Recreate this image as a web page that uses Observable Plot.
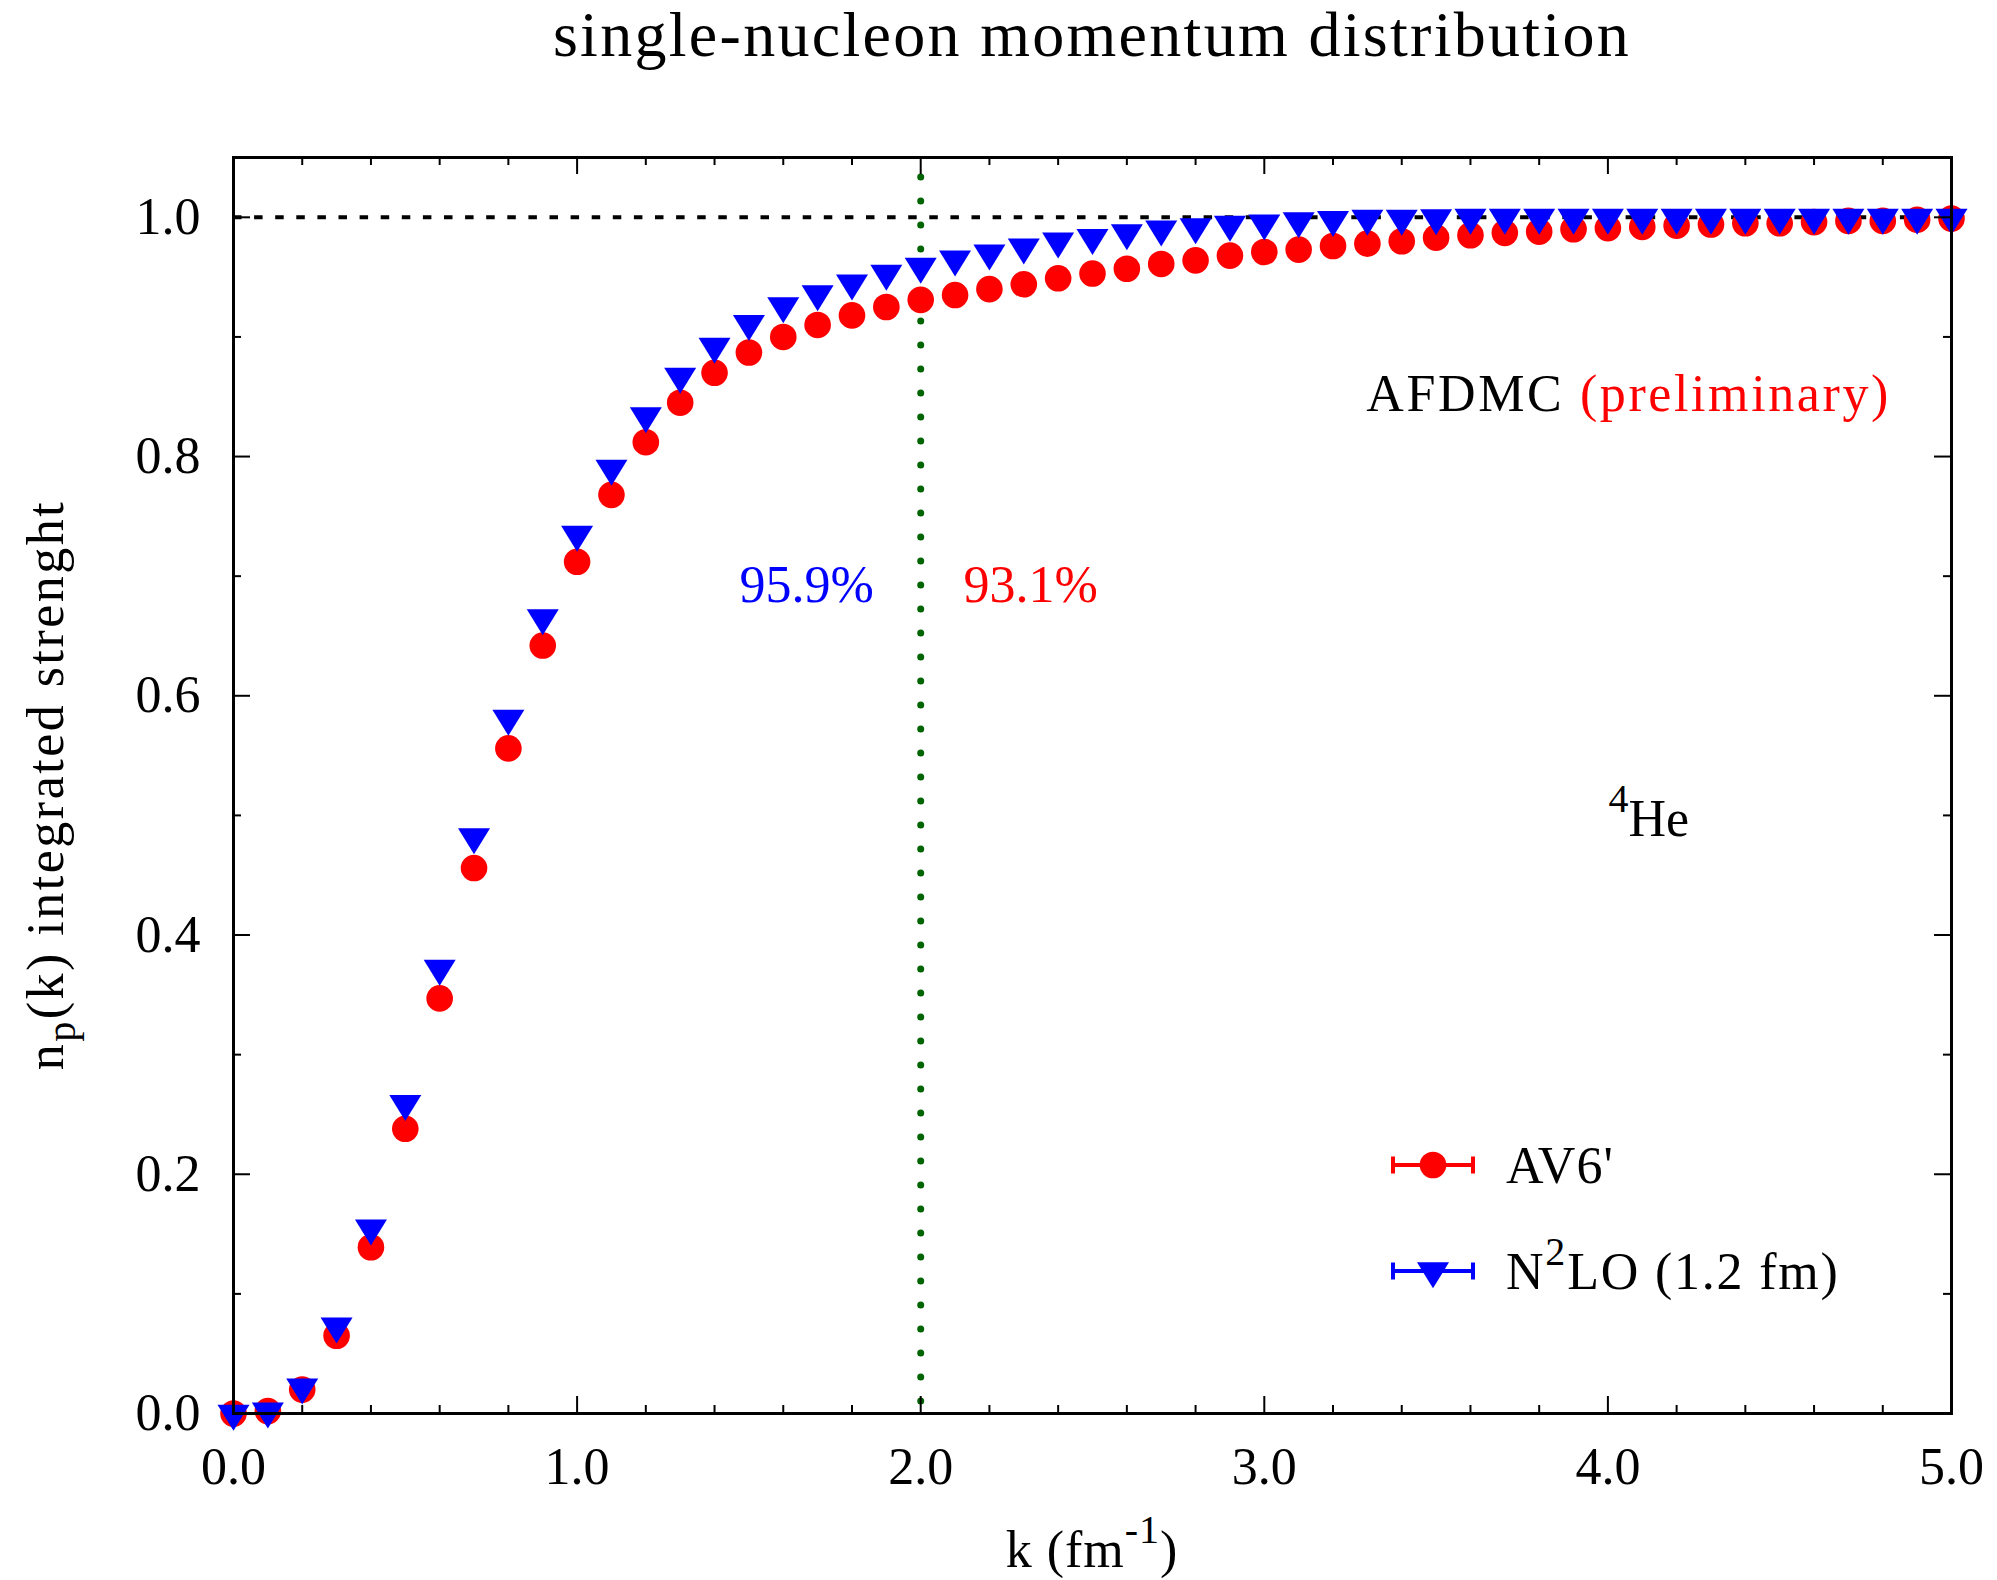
<!DOCTYPE html>
<html><head><meta charset="utf-8">
<script src="https://cdn.jsdelivr.net/npm/d3@7"></script>
<script src="https://cdn.jsdelivr.net/npm/@observablehq/plot@0.6"></script>
<style>
html,body{margin:0;padding:0;background:#fff;}
#wrap{position:relative;width:1997px;height:1580px;overflow:hidden;background:#fff;}
#title{box-sizing:border-box;height:90px;line-height:66px;padding-top:2px;padding-left:233px;padding-right:46px;font-family:"Liberation Serif",serif;font-size:64px;text-align:center;letter-spacing:2.3px;color:#000;white-space:nowrap;}
</style></head>
<body><div id="wrap"><div id="title">single-nucleon momentum distribution</div><div id="chart"></div></div>
<script>
// ---- data ----
const k = [0.0,0.1,0.2,0.3,0.4,0.5,0.6,0.7,0.8,0.9,1.0,1.1,1.2,1.3,1.4,1.5,1.6,1.7,1.8,1.9,2.0,2.1,2.2,2.3,2.4,2.5,2.6,2.7,2.8,2.9,3.0,3.1,3.2,3.3,3.4,3.5,3.6,3.7,3.8,3.9,4.0,4.1,4.2,4.3,4.4,4.5,4.6,4.7,4.8,4.9,5.0];
const av6 = [0.000,0.002,0.020,0.065,0.139,0.238,0.347,0.456,0.556,0.642,0.712,0.768,0.812,0.845,0.870,0.887,0.900,0.910,0.918,0.925,0.931,0.935,0.940,0.944,0.949,0.953,0.957,0.961,0.964,0.968,0.971,0.973,0.976,0.978,0.980,0.983,0.985,0.987,0.988,0.990,0.991,0.992,0.993,0.994,0.995,0.995,0.996,0.997,0.997,0.998,0.999];
const n2lo = [0.000,0.002,0.022,0.073,0.155,0.259,0.372,0.482,0.581,0.665,0.735,0.790,0.834,0.867,0.892,0.911,0.926,0.936,0.945,0.953,0.959,0.965,0.970,0.975,0.980,0.983,0.987,0.990,0.992,0.994,0.995,0.997,0.998,0.999,0.999,0.9995,1.000,1.000,1.000,1.000,1.000,1.000,1.000,1.000,1.000,1.000,1.000,1.000,1.000,1.000,1.000];
const seriesNames = ["AV6'", "N²LO (1.2 fm)"];
const seriesColors = ["#ff0000", "#0000ff"];
const xMajor = [0,1,2,3,4,5];
const xMinor = [0.2,0.4,0.6,0.8,1.2,1.4,1.6,1.8,2.2,2.4,2.6,2.8,3.2,3.4,3.6,3.8,4.2,4.4,4.6,4.8];
const yMajor = [0,0.2,0.4,0.6,0.8,1.0];
const yMinor = [0.1,0.3,0.5,0.7,0.9];
const cutK = [2.0];
const unitLevel = [1.0];
const pctLabels = [{x:1.4726, y:0.6921, text:"95.9%", fill:"#0000ff"},{x:2.1246, y:0.6921, text:"93.1%", fill:"#ff0000"}];
const afdmcLabel = [{x:3.297, y:0.8524, text:"AFDMC (preliminary)"}];
const heLabel = [{x:4.0017, y:0.4963, text:"4He"}];

// ---- layout ----
const W = 1997, H = 1490, mT = 67, mB = 167, mL = 233, mR = 46;
const FH = H - mT - mB, FW = W - mL - mR;
const MAJ = 17, MIN = 8;
const SUP = 40;
const FONT = '"Liberation Serif", serif';

const red = k.map((x,i)=>({k:x, v:av6[i]}));
const blue = k.map((x,i)=>({k:x, v:n2lo[i]}));

const downTriangle = {
  draw(context, size) {
    const r = Math.sqrt(size / Math.PI);
    const h = r * 1.625;
    context.moveTo(-r, -h/3);
    context.lineTo(r, -h/3);
    context.lineTo(0, 2*h/3);
    context.closePath();
  }
};

const tickStyle = {stroke:"black", strokeWidth:2};
const plot = Plot.plot({
  width: W, height: H, marginTop: mT, marginBottom: mB, marginLeft: mL, marginRight: mR,
  style: {fontFamily: FONT, fontSize: "52px", background: "white", overflow: "visible", color: "black"},
  x: {domain: [0,5], label: null},
  y: {domain: [0,1.05], label: null},
  marks: [
    Plot.ruleY(unitLevel, {y: d=>d, stroke:"black", strokeWidth:4, strokeDasharray:"8.5,12.6"}),
    Plot.ruleX(cutK, {x: d=>d, stroke:"#006400", strokeWidth:7, strokeDasharray:"0,24", strokeDashoffset:4, strokeLinecap:"round"}),
    Plot.dot(red, {x:"k", y:"v", r:13.3, fill:seriesColors[0]}),
    Plot.dot(blue, {x:"k", y:"v", r:16, symbol: downTriangle, fill:seriesColors[1]}),
    Plot.tickX(xMajor, {x:d=>d, insetTop: FH-MAJ, ...tickStyle}),
    Plot.tickX(xMajor, {x:d=>d, insetBottom: FH-MAJ, ...tickStyle}),
    Plot.tickX(xMinor, {x:d=>d, insetTop: FH-MIN, ...tickStyle}),
    Plot.tickX(xMinor, {x:d=>d, insetBottom: FH-MIN, ...tickStyle}),
    Plot.tickY(yMajor, {y:d=>d, insetRight: FW-MAJ, ...tickStyle}),
    Plot.tickY(yMajor, {y:d=>d, insetLeft: FW-MAJ, ...tickStyle}),
    Plot.tickY(yMinor, {y:d=>d, insetRight: FW-MIN, ...tickStyle}),
    Plot.tickY(yMinor, {y:d=>d, insetLeft: FW-MIN, ...tickStyle}),
    Plot.frame({stroke:"black", strokeWidth:3}),
    Plot.axisX({ticks: xMajor, tickSize:0, tickPadding:34, tickFormat: d3.format(".1f"), label:null, fontSize:52}),
    Plot.axisY({ticks: yMajor, tickSize:0, tickPadding:33, tickFormat: d3.format(".1f"), label:null, fontSize:52}),
    Plot.text(pctLabels.slice(0,1), {x:"x", y:"y", text:"text", fill:pctLabels[0].fill, textAnchor:"start", lineAnchor:"middle", fontSize:52}),
    Plot.text(pctLabels.slice(1), {x:"x", y:"y", text:"text", fill:pctLabels[1].fill, textAnchor:"start", lineAnchor:"middle", fontSize:52}),
    Plot.text(afdmcLabel, {x:"x", y:"y", text:"text", fill:"black", textAnchor:"start", lineAnchor:"middle", fontSize:52}),
    Plot.text(heLabel, {x:"x", y:"y", text:"text", fill:"black", textAnchor:"start", lineAnchor:"middle", fontSize:52})
  ]
});
document.getElementById("chart").appendChild(plot);

const svg = d3.select(plot);
function findText(str) {
  return svg.selectAll("text").filter(function(){ return this.textContent === str; });
}
// rich text annotations
const af = findText(afdmcLabel[0].text);
af.text(null).style("letter-spacing","2.6px");
af.append("tspan").attr("fill","black").text("AFDMC ");
af.append("tspan").attr("fill","#ff0000").text("(preliminary)");

const he = findText(heLabel[0].text);
he.text(null);
he.append("tspan").attr("font-size",SUP).attr("dy",-24).text("4");
he.append("tspan").attr("font-size",52).attr("dy",24).text("He");

// axis labels
const yl = svg.append("text").attr("transform",`translate(63,${mT+FH/2}) rotate(-90)`)
  .attr("text-anchor","middle").attr("font-size",52).attr("fill","black").style("letter-spacing","2.5px");
yl.append("tspan").text("n");
yl.append("tspan").attr("font-size",SUP).attr("dy",12).text("p");
yl.append("tspan").attr("font-size",52).attr("dy",-12).text("(k) integrated strenght");

const xl = svg.append("text").attr("x", mL+FW/2).attr("y", 1477)
  .attr("text-anchor","middle").attr("font-size",52).attr("fill","black").style("letter-spacing","1px");
xl.append("tspan").text("k (fm");
xl.append("tspan").attr("font-size",SUP).attr("dy",-24).text("-1");
xl.append("tspan").attr("font-size",52).attr("dy",24).text(")");

// legend
const leg = svg.append("g").attr("transform","translate(1391,1075)");
[0,1].forEach(i => {
  const g = leg.append("g").attr("transform",`translate(0,${i*106})`);
  g.append("line").attr("x1",0).attr("x2",84).attr("y1",0).attr("y2",0).attr("stroke",seriesColors[i]).attr("stroke-width",4);
  g.append("line").attr("x1",2).attr("x2",2).attr("y1",-8.5).attr("y2",8.5).attr("stroke",seriesColors[i]).attr("stroke-width",4);
  g.append("line").attr("x1",82).attr("x2",82).attr("y1",-8.5).attr("y2",8.5).attr("stroke",seriesColors[i]).attr("stroke-width",4);
  if (i === 0) {
    g.append("circle").attr("cx",42).attr("cy",0).attr("r",13.3).attr("fill",seriesColors[0]);
  } else {
    g.append("path").attr("transform","translate(42,0)").attr("d", d3.symbol(downTriangle, Math.PI*16*16)()).attr("fill",seriesColors[1]);
  }
  const t = g.append("text").attr("x",115).attr("y",18).attr("text-anchor","start").attr("font-size",52).attr("fill","black").style("letter-spacing", i ? "1.8px" : "1px");
  if (i === 0) {
    t.text(seriesNames[0]);
  } else {
    t.append("tspan").text("N");
    t.append("tspan").attr("font-size",SUP).attr("dy",-24).text("2");
    t.append("tspan").attr("font-size",52).attr("dy",24).text("LO (1.2 fm)");
  }
});
</script>
</body></html>
